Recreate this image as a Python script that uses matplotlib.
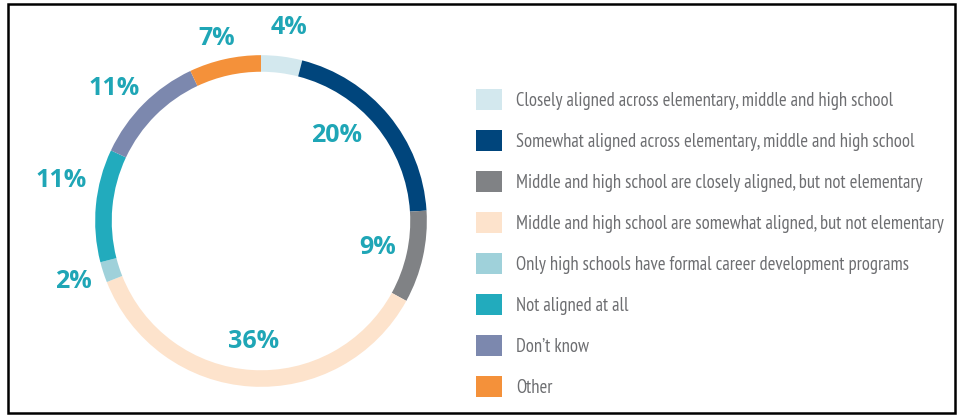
import numpy as np
import matplotlib
matplotlib.use('Agg')
import matplotlib.pyplot as plt
from matplotlib.patches import Rectangle

# Data, clockwise from the top of the ring
categories = ['Closely aligned across elementary, middle and high school',
              'Somewhat aligned across elementary, middle and high school',
              'Middle and high school are closely aligned, but not elementary',
              'Middle and high school are somewhat aligned, but not elementary',
              'Only high schools have formal career development programs',
              'Not aligned at all',
              "Don\u2019t know",
              'Other']
shares = [4, 20, 9, 36, 2, 11, 11, 7]
colors = ['#d3e8ee', '#00457c', '#808285', '#fde3cc',
          '#9fd1da', '#22abbd', '#7c88ae', '#f4913a']

# label placement (radius in ring units, angle nudge in degrees)
label_r = [1.18, 0.69, 0.72, 0.73, 1.19, 1.23, 1.19, 1.13]
label_nudge = [-1, 9, 0, 0, 0, -6, 3, 1]

W, H = 960, 417
fig = plt.figure(figsize=(W / 100, H / 100), dpi=100)

# donut axes, centre at (261, 196) px, 166 px per unit
cx, cy, half = 261, 196, 199
ax = fig.add_axes([(cx - half) / W, (cy - half) / H, 2 * half / W, 2 * half / H])
wedges, _ = ax.pie(shares, colors=colors, startangle=90, counterclock=False,
                   radius=1.0, wedgeprops=dict(width=0.1, linewidth=0))
ax.set_xlim(-1.2, 1.2)
ax.set_ylim(-1.2, 1.2)
ax.set_aspect('equal')
ax.axis('off')

cum = np.cumsum([0] + shares[:-1])
for i, s in enumerate(shares):
    ang = np.deg2rad(90 - (cum[i] + s / 2) * 3.6 + label_nudge[i])
    ax.text(label_r[i] * np.cos(ang), label_r[i] * np.sin(ang), f'{s}%',
            ha='center', va='center', fontsize=18, fontweight='bold',
            color='#1fa6b6', family=['Open Sans', 'DejaVu Sans'], clip_on=False)

# legend
leg = fig.legend(wedges, categories, loc='upper left',
                 bbox_to_anchor=(469 / W, 1 - 82 / H), frameon=False,
                 handlelength=1.35, handleheight=1.35, handletextpad=0.8,
                 labelspacing=1.08, borderaxespad=0,
                 prop=dict(family=['PT Sans Narrow', 'DejaVu Sans'], size=13.4))
for t in leg.get_texts():
    t.set_color('#6d6e71')

# outer frame
fig.patches.append(Rectangle((8 / W, 4 / H), 947 / W, 409 / H, transform=fig.transFigure,
                             fill=False, edgecolor='black', linewidth=1.8))

fig.savefig('out.png', dpi=100)
